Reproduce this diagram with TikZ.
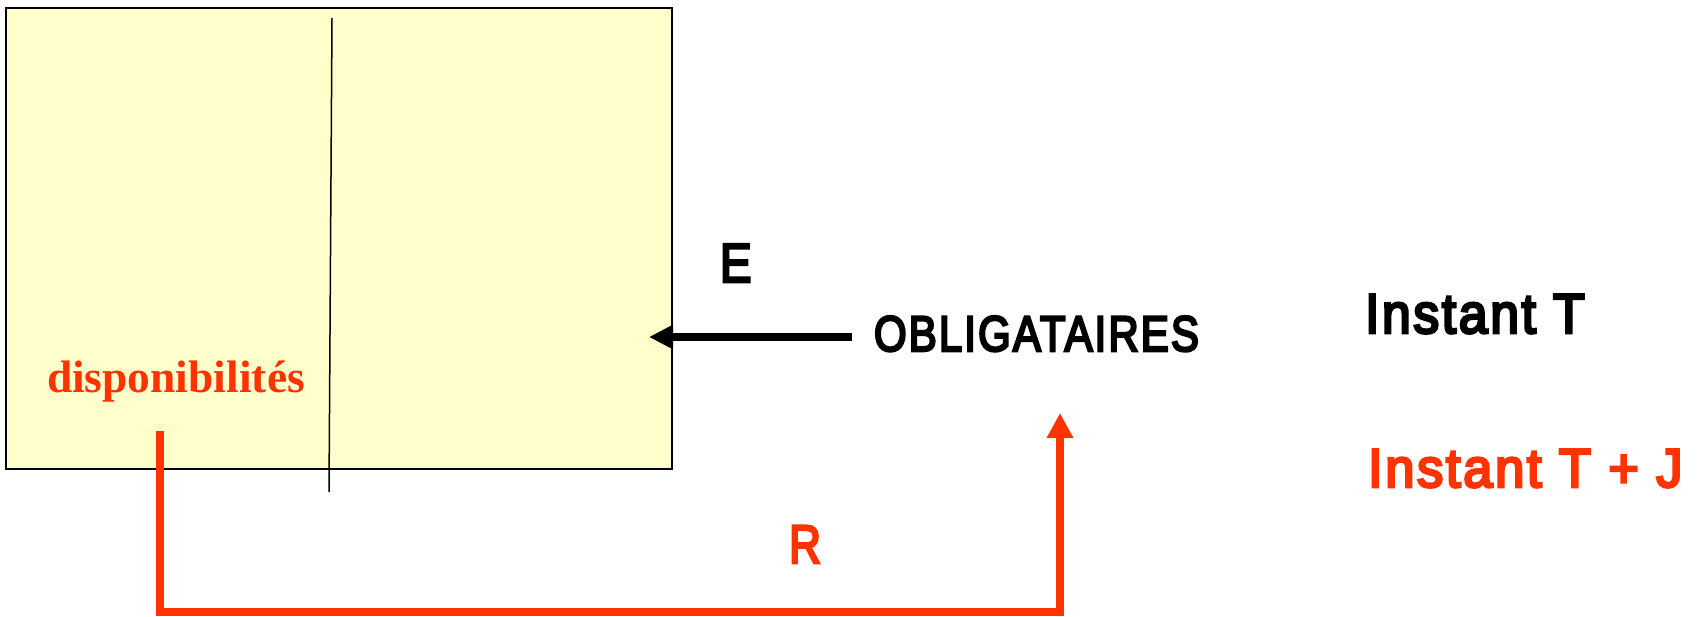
\documentclass[tikz,border=0pt]{standalone}
\usepackage{fontspec}
\usepackage{graphicx,xcolor}
\setmainfont{Liberation Serif}
\setsansfont{Liberation Sans}[FakeBold=5,LetterSpace=5]
\usetikzlibrary{arrows.meta,positioning}
\definecolor{rouge}{RGB}{255,51,0}
\definecolor{jaune}{RGB}{255,255,204}

\begin{document}
\begin{tikzpicture}[x=1pt,y=-1pt]
	\tikzstyle{every node} = [inner sep=0, outer sep=0]
	\tikzstyle{lbl} = [anchor=base west, font=\sffamily]
\useasboundingbox (0,0) rectangle (1699,616);

\node[draw=black, line width=2pt, fill=jaune, minimum width=666pt, minimum height=461pt] (bilan) at (339,238.5) {};
\coordinate (haut) at (332,18);
\coordinate (bas) at (329,492);
\coordinate (queueE) at (852,337);
\coordinate (pointeE) at (649,337);
\coordinate (departR) at (160,431);
\coordinate (coinR) at (160,612);
\coordinate (pointeR) at (1060,413);

\node[lbl, font=\rmfamily\bfseries, text=rouge] (dispo) at (47,392) {\fontsize{45.5}{50}\selectfont disponibilités};
\node[lbl] (E) at (720,282) {\fontsize{55}{60}\selectfont\scalebox{0.86}[1]{E}};
\node[lbl] (oblig) at (874,351) {\fontsize{50}{54}\selectfont\scalebox{0.84}[1]{OBLIGATAIRES}};
\node[lbl] (R) at (789,563) {\fontsize{54}{58}\selectfont\scalebox{0.82}[1]{\color{rouge}R}};
\node[lbl] (instT) at (1365,333) {\fontsize{56}{60}\selectfont\scalebox{0.925}[1]{Instant T}};
\node[lbl] (instTJ) at (1368,487) {\fontsize{54.5}{58}\selectfont\scalebox{0.965}[1]{\color{rouge}Instant T + J}};

	\draw[line width=1.5pt] (haut) -- (bas);
	\draw[line width=8pt, -{Triangle[length=24pt,width=23pt]}] (queueE) -- (pointeE);
	\draw[rouge, line width=8pt, -{Triangle[length=25pt,width=25pt]}] (departR) -- (coinR) -| (pointeR);
\end{tikzpicture}
\end{document}
